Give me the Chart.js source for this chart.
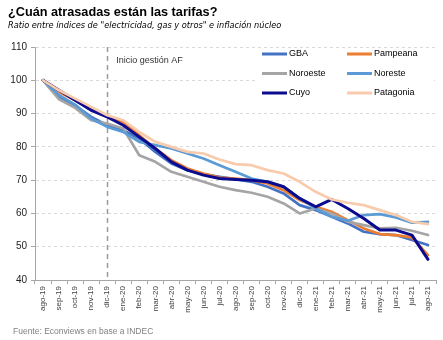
<!DOCTYPE html>
<html><head><meta charset="utf-8">
<script src="https://cdn.jsdelivr.net/npm/chart.js@4/dist/chart.umd.min.js"></script>
<style>html,body{margin:0;padding:0;background:#fff}#wrap{width:443px;height:340px;position:relative}</style>
</head><body><div id="wrap"><canvas id="c" width="443" height="340"></canvas></div>
<script>
const labels = ['ago-19','sep-19','oct-19','nov-19','dic-19','ene-20','feb-20','mar-20','abr-20','may-20','jun-20','jul-20','ago-20','sep-20','oct-20','nov-20','dic-20','ene-21','feb-21','mar-21','abr-21','may-21','jun-21','jul-21','ago-21'];
const gba       = [100, 95, 92.5, 89, 86.5, 85, 82.5, 78.5, 75, 73, 71.8, 71, 70.3, 69.5, 68, 66, 62.5, 61, 59, 57, 54.5, 53.8, 53.5, 52, 50.5];
const pampeana  = [100, 96.5, 94, 91.5, 89, 87.5, 83.5, 79.5, 76, 73.5, 72, 70.8, 70.5, 70, 69, 67, 64, 62, 60.5, 58, 55.5, 53.8, 53.5, 52.8, 47.5];
const noroeste  = [100, 94.3, 91.7, 88, 87, 85.5, 77.5, 75.5, 72.5, 71, 69.5, 68, 67, 66.2, 65, 63, 60, 61.5, 60, 57.5, 56.5, 55.5, 55.7, 54.8, 53.5];
const noreste   = [100, 95.5, 92.7, 88.5, 86, 84.5, 81.5, 80.5, 79.5, 78, 76.5, 74.5, 72.5, 70.5, 69.5, 68, 64.5, 61.5, 59, 57.8, 59.5, 59.8, 58.8, 57.2, 57.5];
const cuyo      = [100, 97, 94, 91, 89, 86.5, 83, 79.5, 75.5, 73, 71.5, 70.5, 70.2, 70, 69.5, 68, 64.5, 62, 64.2, 61.5, 58.5, 55, 55, 53.5, 46.2];
const patagonia = [100, 97, 94.5, 92, 89.5, 88, 84.5, 81.5, 80, 78.5, 78, 76.2, 74.8, 74.5, 73, 72, 69.5, 66.5, 64.2, 63.2, 62.5, 61, 59.5, 57.5, 56.8];
const seriesNames = ['GBA','Pampeana','Noroeste','Noreste','Cuyo','Patagonia'];
const yTicks = [40,50,60,70,80,90,100,110];
const title = '¿Cuán atrasadas están las tarifas?';
const subtitle = 'Ratio entre índices de "electricidad, gas y otros" e inflación núcleo';
const source = 'Fuente: Econviews en base a INDEC';
const markerLabel = 'Inicio gestión AF';
const markerCategory = 'dic-19';

const colors = ['#4472C4','#ED7D31','#A5A5A5','#5B9BD5','#0B0B8F','#F8CBAD'];
const values = [gba,pampeana,noroeste,noreste,cuyo,patagonia];
const FONT = '"Liberation Sans", Arial, sans-serif';
const DFONT = '"DejaVu Sans", sans-serif';

const datasets = values.map((v,i)=>({
  label: seriesNames[i], data: v, borderColor: colors[i], backgroundColor: colors[i],
  borderWidth: i===4 ? 3 : 2.7, pointRadius: 0, tension: 0, fill: false,
  borderJoinStyle: 'round', borderCapStyle: 'round', order: 6 - i
}));

const deco = {
  id: 'deco',
  beforeDatasetsDraw(chart) {
    const ctx = chart.ctx, x = chart.scales.x, a = chart.chartArea;
    const px = x.getPixelForValue(labels.indexOf(markerCategory));
    ctx.save();
    ctx.strokeStyle = '#9a9a9a'; ctx.lineWidth = 1.5; ctx.setLineDash([5,4]);
    ctx.beginPath(); ctx.moveTo(Math.round(px)+0.5, a.top); ctx.lineTo(Math.round(px)+0.5, a.bottom); ctx.stroke();
    ctx.setLineDash([]);
    ctx.fillStyle = '#333'; ctx.font = '9px ' + FONT; ctx.textBaseline = 'middle';
    ctx.fillText(markerLabel, px + 9, 61);
    ctx.restore();
  },
  afterDraw(chart) {
    const ctx = chart.ctx;
    ctx.save();
    ctx.fillStyle = '#000'; ctx.textBaseline = 'alphabetic';
    ctx.font = 'bold 12.7px ' + FONT; ctx.fillText(title, 8, 16);
    ctx.font = 'oblique 8.2px ' + DFONT; ctx.fillText(subtitle, 8, 28);
    ctx.fillStyle = '#808080'; ctx.font = '8.5px ' + FONT; ctx.fillText(source, 13, 334);
    // legend box
    ctx.fillStyle = '#fff'; ctx.fillRect(258, 49, 176, 58);
    const cols = [262, 347], rows = [54, 73.5, 93];
    ctx.font = '9px ' + FONT; ctx.textBaseline = 'middle';
    seriesNames.forEach((n,i)=>{
      const cx = cols[i%2], cy = rows[Math.floor(i/2)];
      ctx.strokeStyle = colors[i]; ctx.lineWidth = 3;
      ctx.beginPath(); ctx.moveTo(cx, cy); ctx.lineTo(cx+25, cy); ctx.stroke();
      ctx.fillStyle = '#000'; ctx.fillText(n, cx+27, cy);
    });
    ctx.restore();
  }
};

new Chart(document.getElementById('c'), {
  type: 'line',
  data: { labels, datasets },
  options: {
    responsive: false, animation: false, devicePixelRatio: 1,
    layout: { padding: { top: 47, right: 7, bottom: 0, left: 0 } },
    plugins: { legend: { display: false }, tooltip: { enabled: false }, title: { display: false } },
    scales: {
      x: {
        offset: true,
        afterFit(s) { s.height = 60; },
        grid: { offset: true, drawOnChartArea: false, drawTicks: true, tickLength: 4, color: '#a6a6a6' },
        border: { display: true, color: '#a6a6a6', width: 1 },
        ticks: { maxRotation: 90, minRotation: 90, autoSkip: false, color: '#404040', padding: 2,
                 font: { family: FONT, size: 8 } }
      },
      y: {
        min: 40, max: 110,
        afterFit(s) { s.width = 35; },
        afterBuildTicks(s) { s.ticks = yTicks.map(v=>({value:v})); },
        grid: { color: '#d9d9d9', lineWidth: 1, drawTicks: true, tickLength: 4, tickColor: '#a6a6a6', tickBorderDash: [] },
        border: { display: true, color: '#a6a6a6', width: 1, dash: [3,3] },
        ticks: { color: '#222', padding: 4, font: { family: FONT, size: 10 } }
      }
    }
  },
  plugins: [deco]
});
</script></body></html>
